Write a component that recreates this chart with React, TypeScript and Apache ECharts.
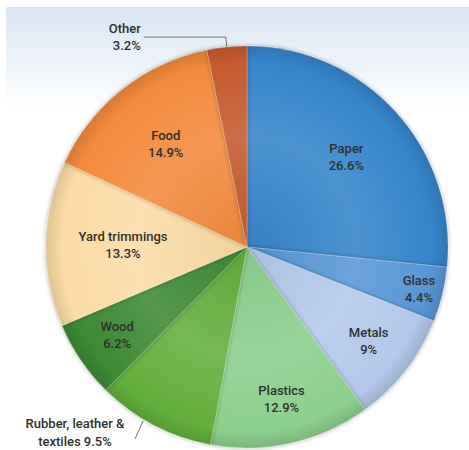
import React, { useEffect, useRef } from "react";
import * as echarts from "echarts";

const categories = [
  "Paper",
  "Glass",
  "Metals",
  "Plastics",
  "Rubber, leather & textiles",
  "Wood",
  "Yard trimmings",
  "Food",
  "Other",
];
const values = [26.6, 4.4, 9, 12.9, 9.5, 6.2, 13.3, 14.9, 3.2];
const labelNames = [
  "Paper",
  "Glass",
  "Metals",
  "Plastics",
  "Rubber, leather &\ntextiles",
  "Wood",
  "Yard trimmings",
  "Food",
  "Other",
];
const baseColors = [
  "#3584cb",
  "#5896d6",
  "#b3c8ea",
  "#8ccf8e",
  "#63ae3c",
  "#3d8934",
  "#fcdca6",
  "#f38a3c",
  "#c55a2f",
];
// label distance from centre in px (null = outside label)
const labelRadius: (number | null)[] = [131, 174, 151, 153, null, 154, 121, 128, null];

const CX = 247;
const CY = 247;
const R = 201;

function mix(hex: string, target: number, t: number): string {
  const n = parseInt(hex.slice(1), 16);
  const r = (n >> 16) & 255, g = (n >> 8) & 255, b = n & 255;
  const f = (c: number) => Math.round(c + (target - c) * t);
  return `rgb(${f(r)},${f(g)},${f(b)})`;
}

export default function App() {
  const ref = useRef<HTMLDivElement>(null);
  useEffect(() => {
    if (!ref.current) return;
    const chart = echarts.init(ref.current, undefined, { renderer: "svg" });
    const total = values.reduce((a, b) => a + b, 0);
    let acc = 0;
    const data = values.map((v, i) => {
      const mid = ((acc + v / 2) / total) * Math.PI * 2;
      acc += v;
      const dx = Math.sin(mid), dy = -Math.cos(mid);
      const base = baseColors[i];
      const color = new echarts.graphic.RadialGradient(
        CX,
        CY,
        R,
        [
          { offset: 0, color: mix(base, 0, 0.04) },
          { offset: 0.55, color: mix(base, 255, 0.12) },
          { offset: 0.92, color: base },
          { offset: 1, color: mix(base, 0, 0.12) },
        ],
        true
      );
      const lr = labelRadius[i];
      const item: any = {
        value: v,
        name: categories[i],
        itemStyle: { color },
      };
      if (lr != null) {
        const k = lr - R / 2;
        item.label = { position: "inside", offset: [dx * k, dy * k] };
        item.labelLine = { show: false };
      } else {
        item.label = {
          position: "outside",
          lineHeight: i === 4 ? 18 : 17,
          distanceToLabelLine: 3,
        };
        item.labelLine = {
          show: true,
          length: 10,
          length2: 82,
          lineStyle: { color: "#707070", width: 1 },
        };
      }
      return item;
    });

    chart.setOption({
      animation: false,
      series: [
        {
          type: "pie",
          center: [CX, CY],
          radius: [0, R],
          startAngle: 90,
          clockwise: true,
          avoidLabelOverlap: false,
          itemStyle: {
            borderColor: "rgba(255,255,255,0.25)",
            borderWidth: 0.8,
            shadowBlur: 4,
            shadowColor: "rgba(0,0,0,0.35)",
          },
          emphasis: { disabled: true },
          label: {
            show: true,
            position: "inside",
            color: "#303030",
            fontSize: 13,
            fontWeight: 500,
            lineHeight: 17,
            fontFamily: "Roboto, 'Noto Sans', sans-serif",
            formatter: (p: any) =>
              labelNames[p.dataIndex] + (p.dataIndex === 4 ? " " : "\n") + p.value + "%",
          },
          labelLine: { show: false },
          labelLayout: (p: any) => {
            if (p.dataIndex === 4) {
              return {
                x: 75,
                y: 432,
                align: "center",
                verticalAlign: "middle",
                labelLinePoints: [
                  [143, 421],
                  [139, 430],
                  [135, 439],
                ],
              };
            }
            return {};
          },
          data,
        },
      ],
    });
    return () => chart.dispose();
  }, []);

  return (
    <div
      style={{
        position: "fixed",
        left: 0,
        top: 0,
        width: 469,
        height: 450,
        background: "#fff",
        overflow: "hidden",
      }}
    >
      <div
        style={{
          position: "absolute",
          left: 6,
          top: 7,
          right: 0,
          bottom: 0,
          background:
            "linear-gradient(to bottom, #dae6f2 0px, #edf3f9 55px, #ffffff 105px)",
        }}
      />
      <div
        ref={ref}
        style={{ position: "absolute", left: 0, top: 0, width: 469, height: 450 }}
      />
    </div>
  );
}
